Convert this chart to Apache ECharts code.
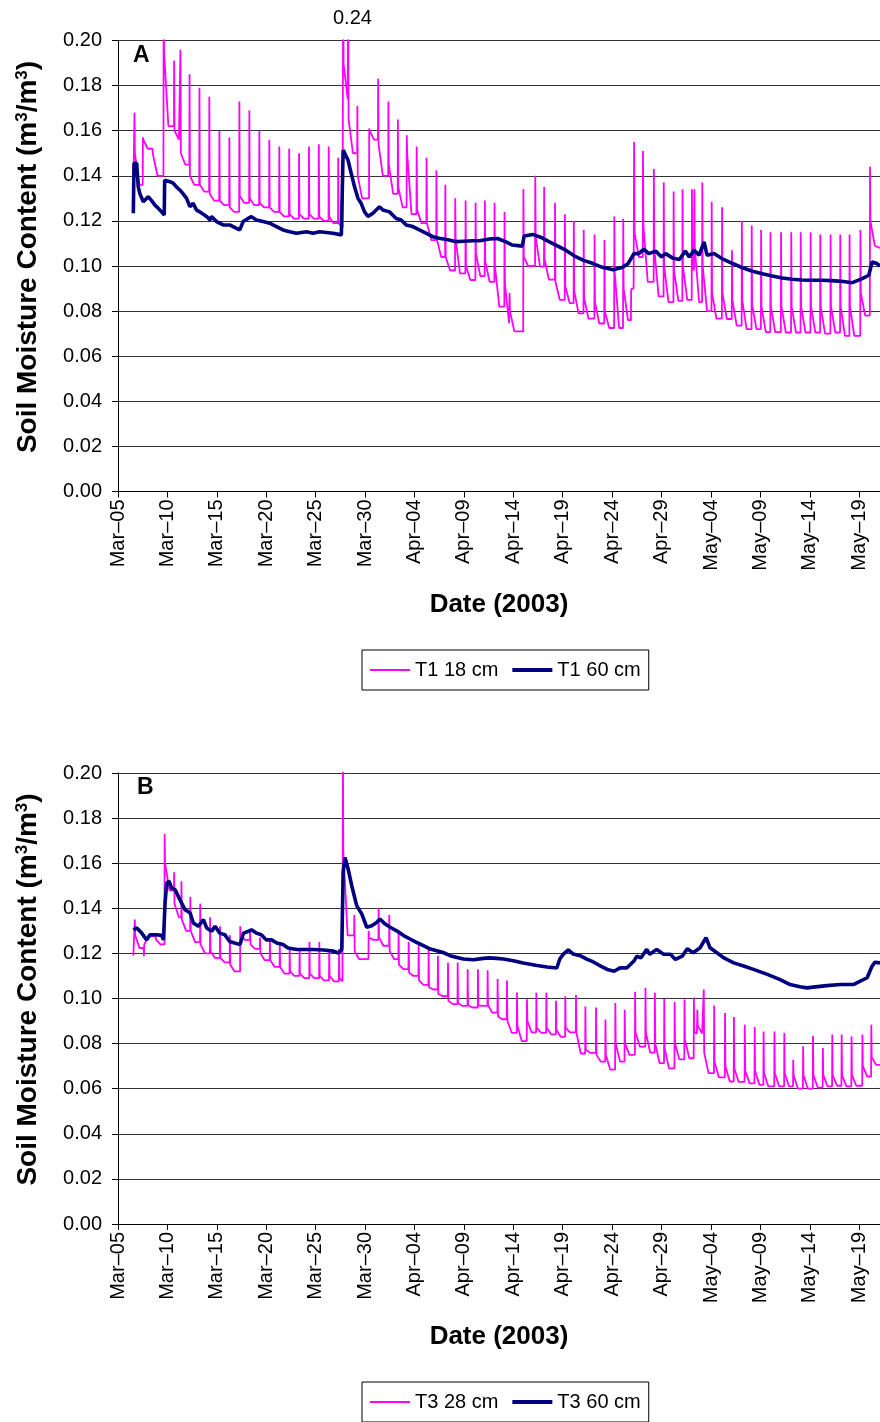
<!DOCTYPE html>
<html><head><meta charset="utf-8">
<script src="https://cdn.jsdelivr.net/npm/echarts@6.0.0/dist/echarts.min.js"></script>
<style>html,body{margin:0;padding:0;background:#fff}#c{width:880px;height:1422px}</style>
</head><body><div id="c"></div>
<script>
// x values are days after Mar-05-2003
const dateTicks = ['Mar–05','Mar–10','Mar–15','Mar–20','Mar–25','Mar–30','Apr–04','Apr–09','Apr–14','Apr–19','Apr–24','Apr–29','May–04','May–09','May–14','May–19'];
const yTicks = [0, 0.02, 0.04, 0.06, 0.08, 0.10, 0.12, 0.14, 0.16, 0.18, 0.20];
const xEnd = 77.1;

// ---- Panel A : T1 18 cm (daily cycles: time of spike, peak, level after spike, low before next) ----
const t1_18_start = [1.55, 0.133];
const t1_18_end = [77.1, 0.108];
const t1_18_time = [1.65,2.50,3.50,4.60,5.66,6.30,7.22,8.22,9.22,10.24,11.25,12.26,13.27,14.28,15.29,16.30,17.30,18.30,19.30,20.30,21.30,22.26,22.76,23.27,24.20,25.40,26.30,27.34,28.30,29.20,30.20,31.20,32.20,33.10,34.10,35.15,36.16,37.10,38.08,39.09,39.60,41.00,42.20,43.10,44.20,45.20,46.10,47.10,48.20,49.20,50.20,51.10,51.90,52.20,53.10,54.20,55.20,56.20,57.10,58.05,58.30,59.10,60.05,61.10,62.10,63.10,64.10,65.05,66.00,67.07,68.10,69.06,70.06,71.04,72.08,73.06,74.00,75.10,76.07];
const t1_18_peak = [0.168,0.157,0.150,0.235,0.191,0.196,0.185,0.179,0.175,0.160,0.157,0.173,0.169,0.160,0.156,0.153,0.152,0.150,0.153,0.154,0.153,0.148,0.240,0.225,0.171,0.161,0.183,0.173,0.165,0.158,0.153,0.148,0.1425,0.136,0.130,0.129,0.128,0.129,0.128,0.124,0.088,0.134,0.140,0.135,0.128,0.123,0.120,0.116,0.114,0.1115,0.122,0.121,0.089,0.155,0.151,0.143,0.137,0.133,0.134,0.134,0.134,0.137,0.1285,0.126,0.107,0.120,0.118,0.116,0.115,0.115,0.115,0.115,0.115,0.114,0.114,0.114,0.114,0.116,0.144];
const t1_18_mid = [0.150,0.156,0.149,0.195,0.160,0.150,0.140,0.136,0.132,0.129,0.126,0.131,0.130,0.128,0.126,0.124,0.123,0.123,0.123,0.122,0.122,0.119,0.190,0.165,0.140,0.160,0.154,0.145,0.135,0.150,0.125,0.119,0.112,0.104,0.112,0.100,0.1055,0.102,0.100,0.092,0.080,0.104,0.113,0.103,0.093,0.091,0.089,0.086,0.084,0.080,0.097,0.090,0.090,0.115,0.118,0.108,0.100,0.098,0.100,0.100,0.108,0.100,0.088,0.088,0.085,0.085,0.083,0.082,0.082,0.082,0.082,0.082,0.082,0.082,0.082,0.082,0.082,0.088,0.120];
const t1_18_low = [0.136,0.152,0.140,0.162,0.156,0.145,0.136,0.133,0.129,0.127,0.124,0.128,0.127,0.126,0.124,0.122,0.121,0.121,0.121,0.120,0.119,0.117,0.174,0.150,0.130,0.156,0.140,0.132,0.126,0.123,0.119,0.1115,0.104,0.098,0.0967,0.0938,0.0955,0.093,0.082,0.0746,0.071,0.100,0.0997,0.094,0.085,0.0835,0.079,0.0767,0.0745,0.0725,0.0725,0.076,0.090,0.104,0.093,0.0865,0.084,0.0845,0.085,0.098,0.084,0.080,0.0767,0.0765,0.0736,0.072,0.072,0.0707,0.0707,0.0705,0.0705,0.0705,0.0705,0.070,0.0705,0.069,0.069,0.078,0.109];

// ---- Panel A : T1 60 cm ----
const t1_60_day = [1.55,1.62,1.89,2.05,2.22,2.56,3.06,3.40,3.74,4.07,4.41,4.68,4.72,5.25,5.59,5.93,6.26,6.60,6.94,7.27,7.60,7.95,8.28,8.96,9.30,9.46,9.97,10.64,11.30,11.99,12.32,12.66,13.16,13.50,14.00,14.68,15.35,16.03,16.70,17.37,18.05,19.06,19.73,20.40,21.75,22.60,22.74,22.78,22.93,23.27,23.60,23.94,24.28,24.60,24.95,25.29,25.79,26.46,26.80,27.47,28.15,28.65,29.16,29.83,30.50,31.20,31.85,32.50,33.50,34.20,35.00,35.90,36.60,37.60,38.40,39.20,39.90,40.90,41.10,41.95,42.90,43.60,44.40,45.30,46.20,47.10,48.00,49.00,50.10,51.00,51.60,52.20,52.70,53.20,53.70,54.40,55.00,55.40,56.10,56.80,57.40,57.80,58.30,58.80,59.30,59.60,60.30,61.10,62.20,63.20,64.20,65.20,66.20,67.20,68.20,69.20,70.20,71.20,72.20,73.20,74.30,75.30,75.97,76.30,76.80,77.10];
const t1_60_val = [0.1234,0.1455,0.1455,0.135,0.132,0.1285,0.1307,0.129,0.127,0.1256,0.124,0.1226,0.138,0.1374,0.1367,0.135,0.1337,0.132,0.130,0.1263,0.1278,0.1248,0.124,0.122,0.1204,0.122,0.1197,0.1182,0.1182,0.1167,0.116,0.1197,0.1211,0.1219,0.1204,0.1197,0.119,0.1175,0.116,0.1152,0.1145,0.1152,0.1145,0.1152,0.1145,0.1138,0.114,0.1514,0.1507,0.147,0.141,0.135,0.130,0.1278,0.124,0.122,0.1234,0.1263,0.1248,0.124,0.1211,0.1204,0.1182,0.1175,0.116,0.1145,0.113,0.1123,0.1115,0.1108,0.111,0.1112,0.1112,0.112,0.1122,0.1108,0.1093,0.1088,0.1133,0.114,0.1125,0.1108,0.109,0.107,0.1044,0.1025,0.1012,0.0994,0.0983,0.0993,0.101,0.1055,0.1055,0.1075,0.1055,0.1066,0.104,0.1055,0.1036,0.1029,0.1066,0.104,0.107,0.1048,0.1107,0.1048,0.1055,0.1033,0.1011,0.0992,0.0977,0.0966,0.0956,0.0947,0.0941,0.0938,0.0937,0.0937,0.0935,0.0932,0.0926,0.0944,0.0959,0.1018,0.1011,0.100];

// ---- Panel B : T3 28 cm ----
const t3_28_start = [1.55, 0.119];
const t3_28_end = [77.1, 0.0706];
const t3_28_time = [1.68,2.60,3.80,4.70,5.66,6.40,7.30,8.30,9.30,10.30,11.30,12.35,13.35,14.35,15.35,16.35,17.35,18.35,19.35,20.35,21.35,22.35,22.74,23.89,25.34,26.35,27.43,28.37,29.39,30.40,31.41,32.35,33.37,34.35,35.36,36.40,37.38,38.39,39.34,40.35,41.36,42.31,43.32,44.30,45.24,46.32,47.27,48.35,49.30,50.30,51.25,52.30,53.35,54.30,55.25,56.30,57.30,58.25,58.60,59.25,60.30,61.40,62.30,63.40,64.40,65.30,66.40,67.40,68.30,69.30,70.30,71.30,72.25,73.20,74.20,75.30,76.20];
const t3_28_peak = [0.135,0.1187,0.127,0.173,0.156,0.152,0.145,0.142,0.136,0.132,0.128,0.132,0.130,0.127,0.126,0.124,0.122,0.122,0.125,0.125,0.122,0.122,0.205,0.137,0.130,0.140,0.137,0.130,0.125,0.124,0.122,0.119,0.116,0.116,0.113,0.113,0.1125,0.1086,0.108,0.1027,0.0997,0.1026,0.1026,0.099,0.101,0.1015,0.0965,0.096,0.0907,0.098,0.095,0.103,0.1047,0.1025,0.0998,0.0985,0.0996,0.1003,0.095,0.104,0.0969,0.0936,0.0918,0.0884,0.0874,0.0854,0.0854,0.0847,0.0728,0.0788,0.0835,0.078,0.084,0.084,0.0832,0.084,0.0884];
const t3_28_mid = [0.128,0.124,0.126,0.160,0.142,0.135,0.130,0.124,0.121,0.118,0.115,0.128,0.124,0.120,0.117,0.114,0.112,0.111,0.111,0.110,0.110,0.109,0.165,0.121,0.127,0.127,0.121,0.115,0.1115,0.108,0.105,0.102,0.099,0.098,0.097,0.097,0.097,0.092,0.090,0.088,0.090,0.087,0.087,0.086,0.087,0.085,0.0774,0.075,0.075,0.080,0.080,0.085,0.085,0.080,0.078,0.080,0.082,0.085,0.088,0.076,0.072,0.070,0.069,0.068,0.068,0.067,0.067,0.067,0.066,0.066,0.066,0.066,0.066,0.066,0.066,0.070,0.074];
const t3_28_low = [0.1224,0.1276,0.124,0.148,0.136,0.130,0.125,0.120,0.118,0.116,0.112,0.126,0.122,0.117,0.114,0.111,0.110,0.109,0.109,0.108,0.1076,0.1076,0.128,0.1175,0.126,0.1234,0.1175,0.113,0.110,0.106,0.104,0.101,0.0975,0.0967,0.096,0.0967,0.0937,0.0908,0.0848,0.0811,0.085,0.0848,0.0841,0.083,0.085,0.0756,0.0759,0.072,0.0685,0.072,0.075,0.0787,0.076,0.0713,0.069,0.073,0.0735,0.0845,0.0845,0.0669,0.065,0.0632,0.063,0.0624,0.0617,0.061,0.061,0.061,0.060,0.060,0.0605,0.061,0.0613,0.061,0.0613,0.0654,0.0706];

// ---- Panel B : T3 60 cm ----
const t3_60_day = [1.55,1.90,2.40,2.90,3.24,3.90,4.40,4.60,4.76,4.93,5.16,5.43,5.77,6.10,6.44,6.78,7.29,7.62,8.13,8.64,8.97,9.48,9.82,10.30,10.80,11.30,11.80,12.35,12.70,13.20,13.50,14.00,14.50,15.00,15.55,16.06,16.70,17.20,18.10,18.76,19.77,20.80,21.80,22.30,22.64,22.78,22.97,23.30,23.65,24.15,24.66,25.17,25.67,26.20,26.50,27.00,27.53,28.20,28.90,29.55,30.20,30.90,31.60,32.25,32.90,33.60,34.30,34.95,35.96,36.97,37.60,38.30,39.00,40.00,41.00,42.40,43.40,44.40,44.70,45.06,45.56,46.06,46.76,47.43,48.10,48.80,49.50,50.20,50.80,51.50,52.20,52.50,52.90,53.50,53.80,54.50,55.20,55.90,56.40,57.10,57.60,58.20,58.90,59.50,59.90,60.60,61.30,62.30,63.30,64.30,65.70,67.00,68.00,69.00,69.70,71.70,73.10,74.40,75.10,75.80,76.30,76.60,77.10];
const t3_60_val = [0.1305,0.1313,0.129,0.126,0.1283,0.1283,0.128,0.126,0.1423,0.1512,0.152,0.149,0.1483,0.1453,0.1423,0.1394,0.138,0.1335,0.132,0.135,0.1313,0.1298,0.132,0.129,0.1283,0.1253,0.1246,0.1239,0.129,0.1298,0.1305,0.129,0.1283,0.126,0.126,0.1246,0.1239,0.1224,0.1217,0.1217,0.1217,0.1215,0.121,0.1202,0.1217,0.156,0.1625,0.1572,0.150,0.1412,0.1375,0.1316,0.1323,0.1338,0.1353,0.1331,0.1316,0.130,0.1279,0.1264,0.1249,0.1234,0.1219,0.1212,0.1204,0.119,0.1182,0.1175,0.1172,0.1178,0.118,0.1178,0.1175,0.1167,0.1157,0.1146,0.114,0.1135,0.1175,0.1197,0.1216,0.1197,0.119,0.1175,0.1162,0.1145,0.1129,0.1121,0.1136,0.1136,0.1166,0.1188,0.118,0.1218,0.1196,0.1218,0.1196,0.1196,0.1173,0.1188,0.1221,0.1203,0.1225,0.127,0.1225,0.1203,0.118,0.1158,0.1144,0.1129,0.1107,0.1084,0.1062,0.1052,0.1047,0.1057,0.1062,0.1062,0.1077,0.1092,0.1144,0.1161,0.1158];

function buildCycles(start, time, peak, mid, low, end) {
  const out = [start.slice()];
  let prev = start[1];
  for (let i = 0; i < time.length; i++) {
    const next = i + 1 < time.length ? time[i + 1] : end[0];
    out.push([time[i], prev]);
    out.push([time[i] + 0.02, peak[i]]);
    out.push([time[i] + 0.06, mid[i]]);
    out.push([Math.min(time[i] + 0.5, next - 0.03), low[i]]);
    prev = low[i];
  }
  out.push(end.slice());
  return out;
}
function zip(a, b) { return a.map((v, i) => [v, b[i]]); }

const FF = '"Liberation Sans", Arial, Helvetica, sans-serif';
const PINK = '#FF00FF', NAVY = '#000080';
const ICON_THIN = 'path://M0,0H40V2H0Z';
const ICON_THICK = 'path://M0,0H40V4H0Z';

function xAxisCfg(gi) {
  return {
    type: 'value', gridIndex: gi, min: 0, max: xEnd, interval: 5,
    name: 'Date (2003)', nameLocation: 'middle', nameGap: 100,
    nameTextStyle: { fontSize: 26, fontWeight: 'bold', color: '#000', fontFamily: FF },
    axisLine: { show: true, onZero: false, lineStyle: { color: '#000', width: 1 } },
    axisTick: { show: true, length: 6, lineStyle: { color: '#000' } },
    splitLine: { show: false },
    axisLabel: {
      rotate: 90, margin: 8, fontSize: 20, color: '#000', fontFamily: FF,
      formatter: v => (Math.abs(v % 5) < 1e-6 ? (dateTicks[Math.round(v / 5)] || '') : '')
    }
  };
}
function yAxisCfg(gi) {
  return {
    type: 'value', gridIndex: gi, min: 0, max: 0.2, interval: 0.02,
    name: 'Soil Moisture Content (m{s|3}/m{s|3})', nameLocation: 'middle', nameGap: 76,
    nameTextStyle: { fontSize: 28, fontWeight: 'bold', color: '#000', fontFamily: FF, padding: [0, 0, 0, 18],
      rich: { s: { fontSize: 17, fontWeight: 'bold', color: '#000', fontFamily: FF, verticalAlign: 'top' } } },
    axisLine: { show: true, lineStyle: { color: '#000', width: 1 } },
    axisTick: { show: true, length: 6, lineStyle: { color: '#000' } },
    splitLine: { show: true, lineStyle: { color: '#333', width: 1 } },
    axisLabel: { margin: 16, fontSize: 20, color: '#000', fontFamily: FF,
      formatter: v => { const k = yTicks.findIndex(t => Math.abs(t - v) < 1e-6); return k >= 0 ? yTicks[k].toFixed(2) : ''; } }
  };
}
function legendCfg(names, top) {
  return {
    data: [{ name: names[0], icon: ICON_THIN }, { name: names[1], icon: ICON_THICK }],
    left: 362, top: top, orient: 'horizontal',
    itemWidth: 40, itemHeight: 14, itemGap: 14, padding: [10, 8],
    borderColor: '#000', borderWidth: 1, selectedMode: false,
    textStyle: { fontSize: 20, color: '#000', fontFamily: FF }
  };
}
function lineSeries(name, gi, data, color, width, z) {
  return { type: 'line', name, xAxisIndex: gi, yAxisIndex: gi, data,
    symbol: 'none', showSymbol: false, sampling: null, clip: true, z,
    lineStyle: { color, width }, itemStyle: { color }, animation: false };
}

const chart = echarts.init(document.getElementById('c'), null, { renderer: 'canvas' });
chart.setOption({
  animation: false,
  backgroundColor: '#fff',
  grid: [
    { left: 118, top: 40.5, width: 762, height: 451 },
    { left: 118, top: 773, width: 762, height: 451 }
  ],
  xAxis: [xAxisCfg(0), xAxisCfg(1)],
  yAxis: [yAxisCfg(0), yAxisCfg(1)],
  legend: [legendCfg(['T1 18 cm', 'T1 60 cm'], 650), legendCfg(['T3 28 cm', 'T3 60 cm'], 1382)],
  graphic: [
    { type: 'text', left: 133, top: 44, style: { text: 'A', font: 'bold 23px ' + FF, fill: '#000' } },
    { type: 'text', left: 137, top: 776, style: { text: 'B', font: 'bold 23px ' + FF, fill: '#000' } },
    { type: 'text', left: 333, top: 8, style: { text: '0.24', font: '20px ' + FF, fill: '#000' } }
  ],
  series: [
    lineSeries('T1 18 cm', 0, buildCycles(t1_18_start, t1_18_time, t1_18_peak, t1_18_mid, t1_18_low, t1_18_end), PINK, 1.8, 2),
    lineSeries('T1 60 cm', 0, zip(t1_60_day, t1_60_val), NAVY, 3.6, 3),
    lineSeries('T3 28 cm', 1, buildCycles(t3_28_start, t3_28_time, t3_28_peak, t3_28_mid, t3_28_low, t3_28_end), PINK, 1.8, 2),
    lineSeries('T3 60 cm', 1, zip(t3_60_day, t3_60_val), NAVY, 3.6, 3)
  ]
});
</script></body></html>
